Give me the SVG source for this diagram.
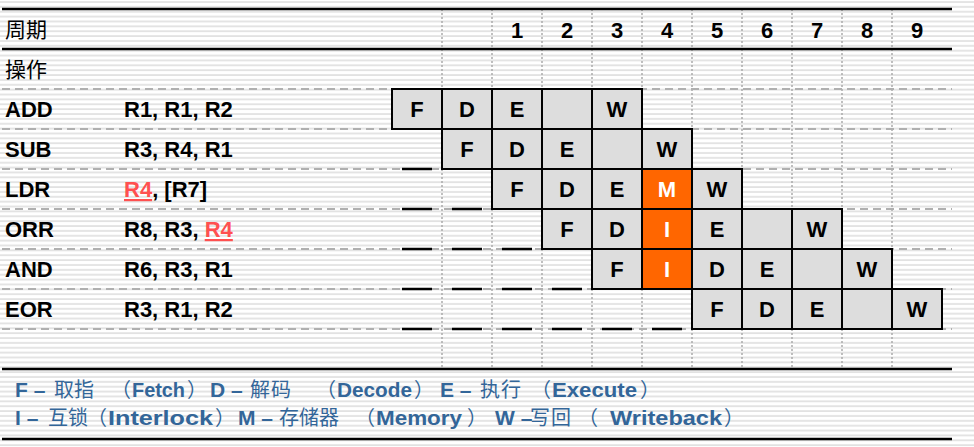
<svg xmlns="http://www.w3.org/2000/svg" width="974" height="447" viewBox="0 0 974 447">
<defs>
<pattern id="stripes" patternUnits="userSpaceOnUse" x="0" y="0" width="10" height="4.87">
<rect x="0" y="1.25" width="10" height="1.5" fill="#dcdcdc"/>
</pattern>
<style>
.thick{stroke:#000;stroke-width:2.5;fill:none}
.dash{stroke:#b0b0b0;stroke-width:2;stroke-dasharray:8 5;fill:none}
.dot{stroke:#aaaaaa;stroke-width:1.5;stroke-dasharray:2 2;fill:none}
.stall{stroke:#000;stroke-width:2.5;fill:none}
.box{fill:#dddddd;stroke:#000;stroke-width:2}
.obox{fill:#ff6600;stroke:#000;stroke-width:2}
.t{font-family:"Liberation Sans",Arial,sans-serif;font-weight:bold;font-size:22px;fill:#000}
.bt{font-family:"Liberation Sans",Arial,sans-serif;font-weight:bold;font-size:22px;fill:#000;text-anchor:middle}
.wt{fill:#fff}
.cjk{font-family:"Noto Sans CJK SC",sans-serif;font-size:21px;fill:#000}
.red{fill:#ff5050;text-decoration:underline}
.leg{font-family:"Liberation Sans","Noto Sans CJK SC",sans-serif;font-weight:bold;font-size:21px;fill:#336699}
.legc{font-family:"Noto Sans CJK SC",sans-serif;font-weight:normal;font-size:20px}
</style>
</defs>
<rect x="0" y="0" width="974" height="447" fill="#fff"/>
<rect x="0" y="0" width="974" height="447" fill="url(#stripes)"/>

<g id="grid">
<path class="dot" d="M442 9V369M492 9V369M542 9V369M592 9V369M642 9V369M692 9V369M742 9V369M792 9V369M842 9V369M892 9V369"/>
<path class="dash" d="M2 89H952M2 129H952M2 169H952M2 209H952M2 249H952M2 289H952M2 329H952"/>
<path class="thick" d="M2 9H952M2 49H952M2 369H952M2 439H952"/>
</g>

<g id="connectors">
<path class="stall" d="M402 169H432"/>
<path class="stall" d="M402 209H432M452 209H482"/>
<path class="stall" d="M402 249H432M452 249H482M502 249H532"/>
<path class="stall" d="M402 289H432M452 289H482M502 289H532M552 289H582"/>
<path class="stall" d="M402 329H432M452 329H482M502 329H532M552 329H582M602 329H632M652 329H682"/>
</g>

<g id="header">
<text class="cjk" x="5" y="37">周期</text>
<text class="cjk" x="5" y="77">操作</text>
<text class="bt" x="517" y="38">1</text>
<text class="bt" x="567" y="38">2</text>
<text class="bt" x="617" y="38">3</text>
<text class="bt" x="667" y="38">4</text>
<text class="bt" x="717" y="38">5</text>
<text class="bt" x="767" y="38">6</text>
<text class="bt" x="817" y="38">7</text>
<text class="bt" x="867" y="38">8</text>
<text class="bt" x="917" y="38">9</text>
</g>

<g id="row-add">
<text class="t" x="5" y="117">ADD</text>
<text class="t" x="124" y="117">R1, R1, R2</text>
<rect class="box" x="392" y="89" width="50" height="40"/>
<rect class="box" x="442" y="89" width="50" height="40"/>
<rect class="box" x="492" y="89" width="50" height="40"/>
<rect class="box" x="542" y="89" width="50" height="40"/>
<rect class="box" x="592" y="89" width="50" height="40"/>
<text class="bt" x="417" y="117">F</text>
<text class="bt" x="467" y="117">D</text>
<text class="bt" x="517" y="117">E</text>
<text class="bt" x="617" y="117">W</text>
</g>

<g id="row-sub">
<text class="t" x="5" y="157">SUB</text>
<text class="t" x="124" y="157">R3, R4, R1</text>
<rect class="box" x="442" y="129" width="50" height="40"/>
<rect class="box" x="492" y="129" width="50" height="40"/>
<rect class="box" x="542" y="129" width="50" height="40"/>
<rect class="box" x="592" y="129" width="50" height="40"/>
<rect class="box" x="642" y="129" width="50" height="40"/>
<text class="bt" x="467" y="157">F</text>
<text class="bt" x="517" y="157">D</text>
<text class="bt" x="567" y="157">E</text>
<text class="bt" x="667" y="157">W</text>
</g>

<g id="row-ldr">
<text class="t" x="5" y="197">LDR</text>
<text class="t" x="124" y="197"><tspan class="red">R4</tspan>, [R7]</text>
<rect class="box" x="492" y="169" width="50" height="40"/>
<rect class="box" x="542" y="169" width="50" height="40"/>
<rect class="box" x="592" y="169" width="50" height="40"/>
<rect class="obox" x="642" y="169" width="50" height="40"/>
<rect class="box" x="692" y="169" width="50" height="40"/>
<text class="bt" x="517" y="197">F</text>
<text class="bt" x="567" y="197">D</text>
<text class="bt" x="617" y="197">E</text>
<text class="bt wt" x="667" y="197">M</text>
<text class="bt" x="717" y="197">W</text>
</g>

<g id="row-orr">
<text class="t" x="5" y="237">ORR</text>
<text class="t" x="124" y="237">R8, R3, <tspan class="red">R4</tspan></text>
<rect class="box" x="542" y="209" width="50" height="40"/>
<rect class="box" x="592" y="209" width="50" height="40"/>
<rect class="obox" x="642" y="209" width="50" height="40"/>
<rect class="box" x="692" y="209" width="50" height="40"/>
<rect class="box" x="742" y="209" width="50" height="40"/>
<rect class="box" x="792" y="209" width="50" height="40"/>
<text class="bt" x="567" y="237">F</text>
<text class="bt" x="617" y="237">D</text>
<text class="bt wt" x="667" y="237">I</text>
<text class="bt" x="717" y="237">E</text>
<text class="bt" x="817" y="237">W</text>
</g>

<g id="row-and">
<text class="t" x="5" y="277">AND</text>
<text class="t" x="124" y="277">R6, R3, R1</text>
<rect class="box" x="592" y="249" width="50" height="40"/>
<rect class="obox" x="642" y="249" width="50" height="40"/>
<rect class="box" x="692" y="249" width="50" height="40"/>
<rect class="box" x="742" y="249" width="50" height="40"/>
<rect class="box" x="792" y="249" width="50" height="40"/>
<rect class="box" x="842" y="249" width="50" height="40"/>
<text class="bt" x="617" y="277">F</text>
<text class="bt wt" x="667" y="277">I</text>
<text class="bt" x="717" y="277">D</text>
<text class="bt" x="767" y="277">E</text>
<text class="bt" x="867" y="277">W</text>
</g>

<g id="row-eor">
<text class="t" x="5" y="317">EOR</text>
<text class="t" x="124" y="317">R3, R1, R2</text>
<rect class="box" x="692" y="289" width="50" height="40"/>
<rect class="box" x="742" y="289" width="50" height="40"/>
<rect class="box" x="792" y="289" width="50" height="40"/>
<rect class="box" x="842" y="289" width="50" height="40"/>
<rect class="box" x="892" y="289" width="50" height="40"/>
<text class="bt" x="717" y="317">F</text>
<text class="bt" x="767" y="317">D</text>
<text class="bt" x="817" y="317">E</text>
<text class="bt" x="917" y="317">W</text>
</g>

<g id="legend">
<text class="leg" y="397"><tspan x="15">F –</tspan><tspan class="legc" x="54 74 111">取指（</tspan><tspan x="132" textLength="53" lengthAdjust="spacingAndGlyphs">Fetch</tspan><tspan class="legc" x="187">）</tspan><tspan x="210">D –</tspan><tspan class="legc" x="250 271 316">解码（</tspan><tspan x="337" textLength="75" lengthAdjust="spacingAndGlyphs">Decode</tspan><tspan class="legc" x="414">）</tspan><tspan x="440">E –</tspan><tspan class="legc" x="480 501 531">执行（</tspan><tspan x="552" textLength="85" lengthAdjust="spacingAndGlyphs">Execute</tspan><tspan class="legc" x="640">）</tspan></text>
<text class="leg" y="425"><tspan x="15">I –</tspan><tspan class="legc" x="48 68 87">互锁（</tspan><tspan x="108" textLength="105" lengthAdjust="spacingAndGlyphs">Interlock</tspan><tspan class="legc" x="215">）</tspan><tspan x="238">M –</tspan><tspan class="legc" x="279 299 319 355">存储器（</tspan><tspan x="376" textLength="86" lengthAdjust="spacingAndGlyphs">Memory</tspan><tspan class="legc" x="467">）</tspan><tspan x="495">W –</tspan><tspan class="legc" x="530 551 578">写回（</tspan><tspan x="610" textLength="112" lengthAdjust="spacingAndGlyphs">Writeback</tspan><tspan class="legc" x="724">）</tspan></text>
</g>
</svg>
